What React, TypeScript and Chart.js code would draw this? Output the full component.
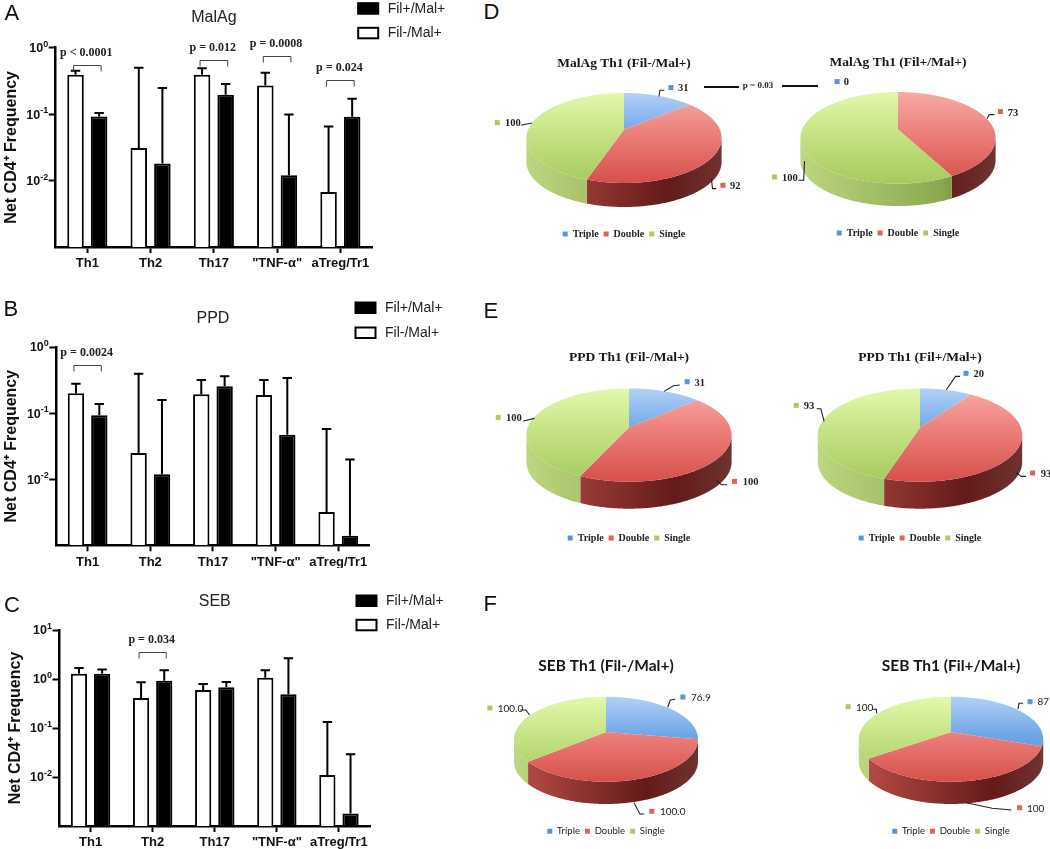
import React, { useEffect, useRef } from 'react';
import { Chart, registerables } from 'chart.js';

Chart.register(...registerables);

const SANS = '"Liberation Sans", Arial, sans-serif';
const SERIF = '"Liberation Serif", "Times New Roman", serif';
const ROUND = 'Lato, "Open Sans", sans-serif';

// ---------- bar data ----------
const categories = ['Th1', 'Th2', 'Th17', '"TNF-α"', 'aTreg/Tr1'];
const negName = 'Fil-/Mal+';
const posName = 'Fil+/Mal+';

const malAgNeg = [0.39, 0.031, 0.39, 0.27, 0.0067];
const malAgNegUpper = [0.45, 0.5, 0.49, 0.42, 0.065];
const malAgPos = [0.092, 0.018, 0.195, 0.012, 0.091];
const malAgPosUpper = [0.104, 0.247, 0.283, 0.099, 0.17];

const ppdNeg = [0.2, 0.025, 0.192, 0.188, 0.0032];
const ppdNegUpper = [0.279, 0.395, 0.317, 0.317, 0.0575];
const ppdPos = [0.0925, 0.0119, 0.254, 0.047, 0.0014];
const ppdPosUpper = [0.137, 0.158, 0.36, 0.34, 0.0198];

const sebNeg = [1.285, 0.41, 0.597, 1.06, 0.011];
const sebNegUpper = [1.68, 0.855, 0.79, 1.5, 0.132];
const sebPos = [1.285, 0.925, 0.676, 0.486, 0.00179];
const sebPosUpper = [1.57, 1.5, 0.87, 2.64, 0.029];

const malAgPCats = [0, 2, 3, 4];
const malAgPTexts = ['p < 0.0001', 'p = 0.012', 'p = 0.0008', 'p = 0.024'];
const malAgPLevels = [0.54, 0.644, 0.757, 0.322];
const ppdPCats = [0];
const ppdPTexts = ['p = 0.0024'];
const ppdPLevels = [0.534];
const sebPCats = [1];
const sebPTexts = ['p = 0.034'];
const sebPLevels = [3.56];

const ticksToOne = [1, 0.1, 0.01];
const exponentsToOne = ['0', '-1', '-2'];
const ticksToTen = [10, 1, 0.1, 0.01];
const exponentsToTen = ['1', '0', '-1', '-2'];

// ---------- pie data ----------
const pieLabels = ['Triple', 'Double', 'Single'];
const d1Values = [31, 92, 100];
const d2Values = [0, 73, 100];
const e1Values = [31, 100, 100];
const e2Values = [20, 93, 93];
const f1Values = [76.9, 100, 100];
const f2Values = [87, 100, 100];
const f1Text = ['76.9', '100.0', '100.0'];

const pieBase = ['#5b93d6', '#e0605a', '#a9cc62'];
const topStops = [
  ['#b3d0f7', '#6fa6e6', '#4a88d0'],
  ['#f8aaa7', '#ec7f7a', '#d6504a'],
  ['#e3f8ab', '#c6e384', '#a6ca5f'],
];
const wallStops = [
  ['#bb4d48', '#631b19', '#6e3330'],
  ['#bb4d48', '#631b19', '#6e3330'],
  ['#bdd680', '#8aa950', '#4b6326'],
];

type Pt = [number, number];

function barPlugin(cfg: any) {
  return {
    id: 'barExtras',
    afterDraw(chart: any) {
      const ctx = chart.ctx;
      const y = chart.scales.y;
      ctx.save();
      // y tick labels: base and raised exponent, at the scale's own tick positions
      ctx.fillStyle = '#111';
      ctx.textBaseline = 'middle';
      ctx.textAlign = 'left';
      y.ticks.forEach((t: any, i: number) => {
        const py = y.getPixelForValue(t.value);
        const exp = cfg.exponents[i];
        const right = chart.chartArea.left - 7.5;
        ctx.font = `bold 9px ${SANS}`;
        const ew = ctx.measureText(exp).width;
        ctx.fillText(exp, right - ew, py - 3.5);
        ctx.font = `bold 12.5px ${SANS}`;
        const bw = ctx.measureText('10').width;
        ctx.fillText('10', right - ew - bw, py + 1);
      });
      ctx.strokeStyle = '#000';
      ctx.lineWidth = 2;
      chart.data.datasets.forEach((ds: any, i: number) => {
        chart.getDatasetMeta(i).data.forEach((bar: any, j: number) => {
          const t = y.getPixelForValue(ds.errorUpper[j]);
          ctx.beginPath();
          ctx.moveTo(bar.x, bar.y);
          ctx.lineTo(bar.x, t);
          ctx.moveTo(bar.x - 4.7, t);
          ctx.lineTo(bar.x + 4.7, t);
          ctx.stroke();
        });
      });
      // significance brackets
      ctx.strokeStyle = '#444';
      ctx.lineWidth = 1;
      ctx.fillStyle = '#222';
      ctx.font = `bold 12px ${SERIF}`;
      ctx.textAlign = 'center';
      ctx.textBaseline = 'middle';
      const m0 = chart.getDatasetMeta(0).data;
      const m1 = chart.getDatasetMeta(1).data;
      cfg.pCats.forEach((c: number, k: number) => {
        const py = Math.round(y.getPixelForValue(cfg.pLevels[k])) + 0.5;
        const l = m0[c].x - 2;
        const r = m1[c].x + 2;
        ctx.beginPath();
        ctx.moveTo(l, py + 6);
        ctx.lineTo(l, py);
        ctx.lineTo(r, py);
        ctx.lineTo(r, py + 6);
        ctx.stroke();
        ctx.fillText(cfg.pTexts[k], (l + r) / 2 - 1, py - 12.5);
      });
      // chart title
      ctx.fillStyle = '#222';
      ctx.font = `16px ${SANS}`;
      ctx.fillText(cfg.title, (chart.chartArea.left + chart.chartArea.right) / 2, cfg.titleY);
      // legend, top entry is the second dataset
      ctx.textAlign = 'left';
      ctx.font = `14px ${SANS}`;
      [1, 0].forEach((dsIdx, row) => {
        const ds = chart.data.datasets[dsIdx];
        const by = cfg.legendY[row];
        ctx.fillStyle = ds.backgroundColor;
        ctx.strokeStyle = '#000';
        ctx.lineWidth = 2;
        ctx.fillRect(cfg.legendX, by, 21, 11.5);
        ctx.strokeRect(cfg.legendX + 0.5, by + 0.5, 20, 10.5);
        ctx.fillStyle = '#222';
        ctx.fillText(ds.label, cfg.legendX + 30, by + 6);
      });
      ctx.restore();
    },
  };
}

function BarPanel(p: any) {
  const ref = useRef<HTMLCanvasElement>(null);
  useEffect(() => {
    const { W, H, plot } = p;
    const chart = new Chart(ref.current as any, {
      type: 'bar',
      data: {
        labels: categories,
        datasets: [
          { label: negName, data: p.neg, errorUpper: p.negUpper, backgroundColor: '#ffffff', borderColor: '#000', borderWidth: 2, barPercentage: 0.7, categoryPercentage: 0.746 },
          { label: posName, data: p.pos, errorUpper: p.posUpper, backgroundColor: '#000000', borderColor: '#000', borderWidth: 2, barPercentage: 0.7, categoryPercentage: 0.746 },
        ] as any,
      },
      options: {
        responsive: false,
        animation: false,
        events: [],
        layout: { padding: { top: plot.top, right: W - plot.right, left: 0, bottom: 0 } },
        plugins: { legend: { display: false }, tooltip: { enabled: false } },
        scales: {
          x: {
            type: 'category',
            border: { display: true, color: '#000', width: 2.5 },
            grid: { drawOnChartArea: false, drawTicks: true, tickLength: 6, tickWidth: 2, tickColor: '#000', offset: false },
            ticks: { color: '#111', autoSkip: false, maxRotation: 0, padding: 3, font: { family: SANS, weight: 'bold', size: 13 } },
            afterFit: (s: any) => { s.height = H - plot.bottom; },
          },
          y: {
            type: 'logarithmic',
            min: 0.001,
            max: p.max,
            border: { display: true, color: '#000', width: 2.5 },
            grid: { drawOnChartArea: false, drawTicks: true, tickLength: 7, tickWidth: 2, tickColor: '#000' },
            afterBuildTicks: (s: any) => { s.ticks = p.tickVals.map((v: number) => ({ value: v })); },
            ticks: { display: false },
            title: {
              display: true,
              text: 'Net CD4⁺ Frequency',
              color: '#111',
              padding: { top: p.yTitlePad, bottom: 0 },
              font: { family: SANS, weight: 'bold', size: 16 },
            },
            afterFit: (s: any) => { s.width = plot.left; },
          },
        },
      } as any,
      plugins: [barPlugin(p)],
    });
    return () => chart.destroy();
  }, []);
  return <canvas ref={ref} width={p.W} height={p.H} style={{ position: 'absolute', left: 0, top: p.top, display: 'block' }} />;
}

function piePlugin(p: any) {
  return {
    id: 'pie3d',
    beforeDatasetDraw(chart: any) {
      const ctx = chart.ctx;
      const { rx, T, B, D, cx, apex } = p.geo;
      const c = (T - B) / (T + B);
      const a = T * (1 - c);
      const d = rx * Math.sqrt(1 - c * c);
      const proj = (th: number): Pt => {
        const u = Math.sin(th);
        const v = -Math.cos(th);
        const w = 1 + c * v;
        return [cx + (d * u) / w, apex + (a * v) / w];
      };
      const arcs = chart.getDatasetMeta(0).data;
      const top = apex - T;
      const bottom = apex + B;
      ctx.save();
      // side walls
      arcs.forEach((arc: any, i: number) => {
        const s = arc.startAngle + Math.PI / 2;
        const e = arc.endAngle + Math.PI / 2;
        if (e - s < 1e-4) return;
        const front: number[] = [];
        for (let th = s; th <= e; th += 0.01) if (-Math.cos(th) >= -c) front.push(th);
        if (-Math.cos(e) >= -c) front.push(e);
        if (front.length < 2) return;
        const g = ctx.createLinearGradient(cx - rx, 0, cx + rx, 0);
        g.addColorStop(0, wallStops[i][0]);
        g.addColorStop(0.72, wallStops[i][1]);
        g.addColorStop(1, wallStops[i][2]);
        ctx.fillStyle = g;
        ctx.beginPath();
        front.forEach((th, k) => {
          const q = proj(th);
          if (k === 0) ctx.moveTo(q[0], q[1]);
          else ctx.lineTo(q[0], q[1]);
        });
        for (let k = front.length - 1; k >= 0; k--) {
          const q = proj(front[k]);
          ctx.lineTo(q[0], q[1] + D);
        }
        ctx.closePath();
        ctx.fill();
      });
      // top surface
      arcs.forEach((arc: any, i: number) => {
        const s = arc.startAngle + Math.PI / 2;
        const e = arc.endAngle + Math.PI / 2;
        if (e - s < 1e-4) return;
        const g = ctx.createLinearGradient(0, top, 0, bottom);
        g.addColorStop(0, topStops[i][0]);
        g.addColorStop(0.45, topStops[i][1]);
        g.addColorStop(1, topStops[i][2]);
        ctx.fillStyle = g;
        ctx.beginPath();
        ctx.moveTo(cx, apex);
        for (let th = s; th < e; th += 0.01) {
          const q = proj(th);
          ctx.lineTo(q[0], q[1]);
        }
        const q = proj(e);
        ctx.lineTo(q[0], q[1]);
        ctx.closePath();
        ctx.fill();
      });
      ctx.restore();
      return false;
    },
    afterDraw(chart: any) {
      const ctx = chart.ctx;
      const vals = chart.data.datasets[0].data;
      ctx.save();
      ctx.translate(-p.left, -p.top);
      ctx.font = p.labelFont;
      ctx.textAlign = 'left';
      ctx.textBaseline = 'middle';
      p.callouts.forEach((co: any, i: number) => {
        if (co.line) {
          ctx.strokeStyle = '#222';
          ctx.lineWidth = 1.1;
          ctx.beginPath();
          co.line.forEach((q: Pt, k: number) => (k ? ctx.lineTo(q[0], q[1]) : ctx.moveTo(q[0], q[1])));
          ctx.stroke();
        }
        ctx.fillStyle = pieBase[i];
        ctx.fillRect(co.sq[0] - 2.5, co.sq[1] - 2.5, 5, 5);
        ctx.fillStyle = '#222';
        ctx.fillText(p.texts ? p.texts[i] : String(vals[i]), co.tx[0], co.tx[1]);
      });
      ctx.restore();
    },
  };
}

function PiePanel(p: any) {
  const ref = useRef<HTMLCanvasElement>(null);
  useEffect(() => {
    const chart = new Chart(ref.current as any, {
      type: 'pie',
      data: {
        labels: pieLabels,
        datasets: [{ data: p.values, backgroundColor: pieBase, borderWidth: 0 }],
      },
      options: {
        responsive: false,
        animation: false,
        events: [],
        plugins: {
          tooltip: { enabled: false },
          title: {
            display: true,
            text: p.title,
            color: '#161616',
            padding: { top: 4, bottom: 0 },
            font: p.titleFont,
          },
          legend: {
            position: 'bottom',
            labels: { boxWidth: 5, boxHeight: 5, padding: 5, color: '#222', font: p.legendFont },
          },
        },
      } as any,
      plugins: [piePlugin(p)],
    });
    return () => chart.destroy();
  }, []);
  return <canvas ref={ref} width={p.width} height={p.height} style={{ position: 'absolute', left: p.left, top: p.top, display: 'block' }} />;
}

function makePie(o: any) {
  const width = 300;
  const left = o.cx - width / 2;
  const top = o.titleY - 12;
  const height = o.legendY + 7 - top;
  return {
    ...o,
    width,
    height,
    left,
    top,
    geo: { cx: width / 2, apex: o.apexY - top, rx: o.rx, T: o.apexY - o.topY, B: o.botY - o.apexY, D: o.sideY - o.botY },
  };
}

const serifTitle = { family: SERIF, weight: 'bold', size: 13.5 };
const serifLegend = { family: SERIF, weight: 'bold', size: 10 };
const serifLabel = `bold 10.5px ${SERIF}`;
const roundTitle = { family: ROUND, weight: 'bold', size: 15.5 };
const roundLegend = { family: ROUND, weight: 'normal', size: 9.5 };
const roundLabel = `10px ${ROUND}`;

const pies = [
  makePie({
    values: d1Values, title: 'MalAg Th1 (Fil-/Mal+)', cx: 624.1, rx: 97.6, topY: 92.7, apexY: 129.3, botY: 182.7, sideY: 206.7, titleY: 62.7, legendY: 242.3,
    titleFont: serifTitle, legendFont: serifLegend, labelFont: serifLabel,
    callouts: [
      { sq: [671, 87.3], tx: [678, 88.3], line: [[659, 96], [660, 90], [664.4, 90]] },
      { sq: [723, 185], tx: [730, 186], line: [[711.5, 178.3], [712.6, 188.3], [716.3, 188.3]] },
      { sq: [497.4, 122.3], tx: [505.2, 123], line: [[521, 125], [532, 122.7]] },
    ],
  }),
  makePie({
    values: d2Values, title: 'MalAg Th1 (Fil+/Mal+)', cx: 898.3, rx: 97.6, topY: 91.7, apexY: 129.3, botY: 183.3, sideY: 205.7, titleY: 61.7, legendY: 241.3,
    titleFont: serifTitle, legendFont: serifLegend, labelFont: serifLabel,
    callouts: [
      { sq: [837.4, 81.3], tx: [844, 82] },
      { sq: [1000.7, 111.3], tx: [1008, 113], line: [[987.4, 118.3], [989.6, 114.3], [994.8, 114.3]] },
      { sq: [774.8, 176.7], tx: [782.2, 178], line: [[798.5, 180], [804, 180], [804.8, 160.7]] },
    ],
  }),
  makePie({
    values: e1Values, title: 'PPD Th1 (Fil-/Mal+)', cx: 629.3, rx: 102.6, topY: 388.7, apexY: 427.7, botY: 482, sideY: 509, titleY: 357.3, legendY: 546.7,
    titleFont: serifTitle, legendFont: serifLegend, labelFont: serifLabel,
    callouts: [
      { sq: [687.4, 382], tx: [694.8, 384], line: [[664.4, 391.7], [673.7, 386], [680, 385.3]] },
      { sq: [734.8, 481.7], tx: [743, 482.7], line: [[716.3, 481], [721.9, 485], [727.4, 485]] },
      { sq: [498.5, 417.7], tx: [506.3, 418.7], line: [[523.7, 421.3], [534.8, 418.7]] },
    ],
  }),
  makePie({
    values: e2Values, title: 'PPD Th1 (Fil+/Mal+)', cx: 919.6, rx: 102.2, topY: 388.7, apexY: 427.7, botY: 482, sideY: 509, titleY: 357.3, legendY: 546.7,
    titleFont: serifTitle, legendFont: serifLegend, labelFont: serifLabel,
    callouts: [
      { sq: [965.6, 373.7], tx: [973, 374.7], line: [[945.9, 390], [955.2, 376.7], [959.6, 376.7]] },
      { sq: [1032.2, 473.3], tx: [1040.4, 474.7], line: [[1015.6, 472.7], [1020.7, 476.7], [1025.6, 476.7]] },
      { sq: [795.9, 405.7], tx: [803.3, 406.7], line: [[816.3, 409], [820.4, 409], [823.7, 421.7]] },
    ],
  }),
  makePie({
    values: f1Values, texts: f1Text, title: 'SEB Th1 (Fil-/Mal+)', cx: 605.7, rx: 92, topY: 696.7, apexY: 732, botY: 781.7, sideY: 804, titleY: 665, legendY: 839,
    titleFont: roundTitle, legendFont: roundLegend, labelFont: roundLabel,
    callouts: [
      { sq: [682.6, 697], tx: [690.7, 697.7], line: [[667.4, 707.3], [670, 700], [674.8, 699.3]] },
      { sq: [651.5, 811.3], tx: [659.6, 811.7], line: [[633.7, 802.7], [639.6, 814], [644, 814]] },
      { sq: [489.6, 708], tx: [497.4, 708.7], line: [[520, 710], [525.6, 710], [529.3, 715]] },
    ],
  }),
  makePie({
    values: f2Values, title: 'SEB Th1 (Fil+/Mal+)', cx: 951, rx: 92.2, topY: 696.7, apexY: 732, botY: 781.7, sideY: 804, titleY: 665, legendY: 839,
    titleFont: roundTitle, legendFont: roundLegend, labelFont: roundLabel,
    callouts: [
      { sq: [1030, 701.7], tx: [1037.4, 702], line: [[1018.1, 709], [1018.9, 703.3], [1023, 703.3]] },
      { sq: [1019.6, 807.7], tx: [1027, 808.3], line: [[966.3, 802.7], [992.2, 808.3], [1011.5, 810]] },
      { sq: [848.1, 706.7], tx: [855.9, 707.3], line: [[871.9, 709.3], [876.3, 709.3], [876.7, 713.3]] },
    ],
  }),
];

const bars = [
  {
    top: 0, W: 460, H: 285, plot: { left: 55.7, right: 372, top: 47.7, bottom: 247 }, max: 1,
    neg: malAgNeg, negUpper: malAgNegUpper, pos: malAgPos, posUpper: malAgPosUpper,
    pCats: malAgPCats, pTexts: malAgPTexts, pLevels: malAgPLevels,
    tickVals: ticksToOne, exponents: exponentsToOne, yTitlePad: 2,
    title: 'MalAg', titleY: 17.7, legendX: 357.7, legendY: [2.7, 27.3],
  },
  {
    top: 290, W: 460, H: 278, plot: { left: 56.3, right: 369.6, top: 57, bottom: 255.3 }, max: 1,
    neg: ppdNeg, negUpper: ppdNegUpper, pos: ppdPos, posUpper: ppdPosUpper,
    pCats: ppdPCats, pTexts: ppdPTexts, pLevels: ppdPLevels,
    tickVals: ticksToOne, exponents: exponentsToOne, yTitlePad: 2,
    title: 'PPD', titleY: 28.5, legendX: 355, legendY: [12, 37],
  },
  {
    top: 570, W: 460, H: 279, plot: { left: 59.5, right: 370, top: 60, bottom: 256 }, max: 10,
    neg: sebNeg, negUpper: sebNegUpper, pos: sebPos, posUpper: sebPosUpper,
    pCats: sebPCats, pTexts: sebPTexts, pLevels: sebPLevels,
    tickVals: ticksToTen, exponents: exponentsToTen, yTitlePad: 6,
    title: 'SEB', titleY: 32, legendX: 356, legendY: [25, 49.3],
  },
];

const letters = [
  { t: 'A', left: 4.5, top: 2.4 },
  { t: 'B', left: 3.5, top: 298.4 },
  { t: 'C', left: 4, top: 594 },
  { t: 'D', left: 483.5, top: 1.4 },
  { t: 'E', left: 483.5, top: 300.4 },
  { t: 'F', left: 483.5, top: 593.4 },
];

export default function App() {
  return (
    <div style={{ position: 'absolute', left: 0, top: 0, width: 1050, height: 849, overflow: 'hidden', background: '#fff', filter: 'blur(0.4px)' }}>
      {bars.map((b, i) => <BarPanel key={i} {...b} />)}
      {pies.map((q, i) => <PiePanel key={i} {...q} />)}
      {letters.map((l) => (
        <div key={l.t} style={{ position: 'absolute', left: l.left, top: l.top, font: `22px/22px ${SANS}`, color: '#111' }}>{l.t}</div>
      ))}
      <div style={{ position: 'absolute', left: 704.4, top: 86, width: 35, height: 2, background: '#111' }} />
      <div style={{ position: 'absolute', left: 782.2, top: 85, width: 36, height: 2, background: '#111' }} />
      <div style={{ position: 'absolute', left: 740, width: 36, top: 79, textAlign: 'center', font: `bold 9px/12px ${SERIF}`, color: '#222' }}>p = 0.03</div>
    </div>
  );
}
